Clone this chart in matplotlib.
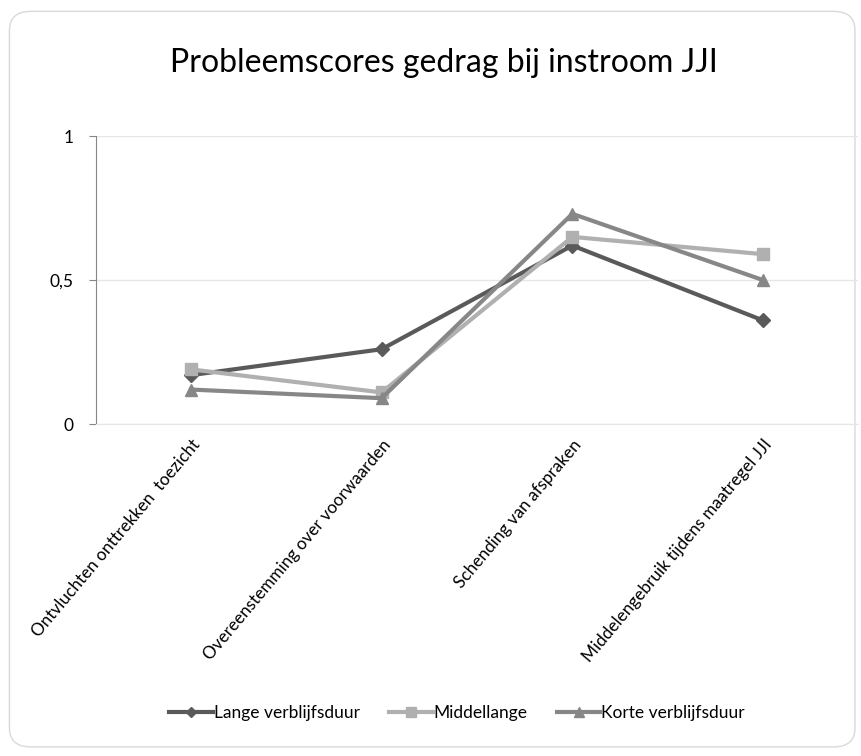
import matplotlib
matplotlib.use("Agg")
import matplotlib.pyplot as plt
import matplotlib.transforms as mtransforms
from matplotlib.patches import FancyBboxPatch

categories = ["Ontvluchten onttrekken  toezicht",
              "Overeenstemming over voorwaarden",
              "Schending van afspraken",
              "Middelengebruik tijdens maatregel JJI"]
lange = [0.17, 0.26, 0.62, 0.36]
middellange = [0.19, 0.11, 0.65, 0.59]
korte = [0.12, 0.09, 0.73, 0.50]
series_names = ["Lange verblijfsduur", "Middellange", "Korte verblijfsduur"]
yticks = [0, 0.5, 1]
yticklabels = ["0", "0,5", "1"]
title = "Probleemscores gedrag bij instroom JJI"

plt.rcParams['font.family'] = ['Lato', 'DejaVu Sans']

fig = plt.figure(figsize=(8.61, 7.56), dpi=100)
border = FancyBboxPatch((0.011, 0.012), 0.982, 0.973,
                        boxstyle="round,pad=0,rounding_size=0.025",
                        transform=fig.transFigure, facecolor='none',
                        edgecolor='#d9d9d9', linewidth=1.0, zorder=-5)
fig.patches.append(border)

ax = fig.add_axes([0.111, 0.439, 0.886, 0.381])
ax.set_facecolor('none')
x = list(range(len(categories)))
ax.plot(x, lange, color='#5a5a5a', lw=3, marker='D', ms=7, label=series_names[0], zorder=3)
ax.plot(x, middellange, color='#b0b0b0', lw=3, marker='s', ms=9, label=series_names[1], zorder=3)
ax.plot(x, korte, color='#878787', lw=3, marker='^', ms=9, label=series_names[2], zorder=3)

ax.set_xlim(-0.5, len(categories) - 0.5)
ax.set_ylim(0, 1)
ax.set_yticks(yticks)
ax.set_yticklabels(yticklabels, fontsize=12.5)
ax.set_xticks(x)
ax.set_xticklabels(categories, rotation=50, ha='right', va='top',
                   rotation_mode='anchor', fontsize=12.3)
offset = mtransforms.ScaledTranslation(-11 / 100, 0, fig.dpi_scale_trans)
for lab in ax.get_xticklabels():
    lab.set_transform(lab.get_transform() + offset)
ax.tick_params(axis='x', length=0, pad=9)
ax.tick_params(axis='y', length=5, color='#868686', pad=11, direction='out')
ax.grid(axis='y', color='#e6e6e6', lw=1)
ax.set_axisbelow(True)
for s in ['top', 'right']:
    ax.spines[s].set_visible(False)
ax.spines['bottom'].set_color('#e6e6e6')
ax.spines['left'].set_color('#868686')

fig.text(0.516, 0.917, title, ha='center', va='center', fontsize=23)

fig.legend(loc='center', bbox_to_anchor=(0.531, 0.057), ncol=3, frameon=False,
           fontsize=12.5, handlelength=2.5, handletextpad=0.05, columnspacing=1.7,
           markerscale=0.8)

fig.savefig("out.png", dpi=100)
